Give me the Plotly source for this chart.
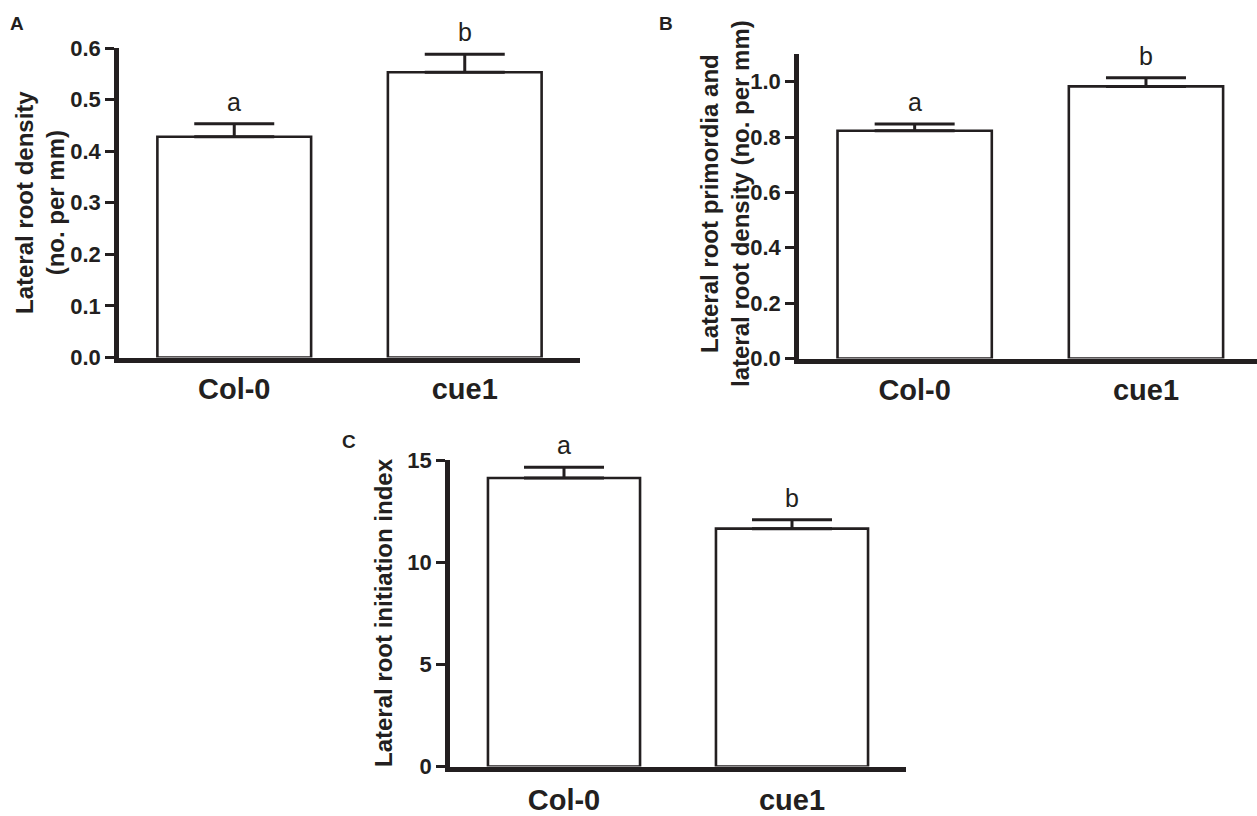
import plotly.graph_objects as go

categories = ["Col-0", "cue1"]

a_means = [0.428, 0.553]
a_errs = [0.025, 0.035]
a_letters = ["a", "b"]

b_means = [0.823, 0.983]
b_errs = [0.024, 0.031]
b_letters = ["a", "b"]

c_means = [14.12, 11.64]
c_errs = [0.52, 0.44]
c_letters = ["a", "b"]

a_ticks = [0.0, 0.1, 0.2, 0.3, 0.4, 0.5, 0.6]
b_ticks = [0.0, 0.2, 0.4, 0.6, 0.8, 1.0]
c_ticks = [0, 5, 10, 15]

W, H = 1257, 816
FONT = "Liberation Sans, Arial, sans-serif"
INK = "#231f20"


def px_x(p):
    return p / W


def px_y(p):
    return 1 - p / H


fig = go.Figure()

panels = [
    ("x", "y", a_means, a_errs, a_letters),
    ("x2", "y2", b_means, b_errs, b_letters),
    ("x3", "y3", c_means, c_errs, c_letters),
]

for xa, ya, means, errs, letters in panels:
    fig.add_trace(go.Bar(
        x=categories, y=means, xaxis=xa, yaxis=ya,
        width=0.667,
        marker=dict(color="white", line=dict(color=INK, width=2.6)),
        error_y=dict(type="data", symmetric=False, array=errs,
                     arrayminus=[0] * len(errs), color=INK,
                     thickness=3, width=40),
        showlegend=False, cliponaxis=False, hoverinfo="skip",
    ))
    for cat, m, e, let in zip(categories, means, errs, letters):
        fig.add_annotation(x=cat, y=m + e, xref=xa, yref=ya, text=let,
                           showarrow=False, xanchor="center", yanchor="bottom",
                           yshift=6,
                           font=dict(family=FONT, size=25, color=INK))

axis_common = dict(showgrid=False, zeroline=False, showline=True,
                   linecolor=INK, linewidth=4.5, ticks="outside",
                   tickwidth=3, ticklen=9, tickcolor=INK, automargin=False,
                   tickfont=dict(family=FONT, size=22, color=INK,
                                 weight="bold"))
xaxis_common = dict(showgrid=False, zeroline=False, showline=True,
                    linecolor=INK, linewidth=4.5, ticks="outside",
                    tickcolor="rgba(0,0,0,0)", automargin=False,
                    tickfont=dict(family=FONT, size=29, color=INK,
                                  weight="bold"),
                    type="category")

fig.update_layout(
    template="none",
    width=W, height=H,
    margin=dict(l=0, r=0, t=0, b=0, autoexpand=False),
    paper_bgcolor="white", plot_bgcolor="white",
    xaxis=dict(**xaxis_common, ticklen=2, domain=[px_x(119), px_x(580)],
               range=[-0.5, 1.5], anchor="y"),
    yaxis=dict(**axis_common, domain=[px_y(357.5), px_y(48)], range=[0, 0.6],
               tickvals=a_ticks, tickformat=".1f", anchor="x"),
    xaxis2=dict(**xaxis_common, ticklen=2, domain=[px_x(799), 1.0],
                range=[-0.5, 1.48], anchor="y2"),
    yaxis2=dict(**axis_common, domain=[px_y(358.5), px_y(54)], range=[0, 1.1],
                tickvals=b_ticks, tickformat=".1f", anchor="x2"),
    xaxis3=dict(**xaxis_common, ticklen=4, domain=[px_x(450), px_x(906)],
                range=[-0.5, 1.5], anchor="y3"),
    yaxis3=dict(**axis_common, domain=[px_y(766.5), px_y(460)], range=[0, 15],
                tickvals=c_ticks, tickformat="d", anchor="x3"),
)

title_font = dict(family=FONT, size=24, color=INK, weight="bold")
for txt, tx, ty in [
    ("Lateral root density<br>(no. per mm)", 40, 203),
    ("Lateral root primordia and<br>lateral root density (no. per mm)", 725, 204),
    ("Lateral root initiation index", 383, 613),
]:
    fig.add_annotation(x=px_x(tx), y=px_y(ty), xref="paper", yref="paper",
                       text=txt, textangle=-90, showarrow=False,
                       xanchor="center", yanchor="middle",
                       font=title_font, align="center")

label_font = dict(family=FONT, size=19, color=INK, weight="bold")
for lab, lx, ly in [("A", 17, 23), ("B", 666, 23), ("C", 349, 441)]:
    fig.add_annotation(x=px_x(lx), y=px_y(ly), xref="paper", yref="paper",
                       text=lab, showarrow=False, xanchor="center",
                       yanchor="middle", font=label_font)

fig.write_html(
    "out.html",
    config={"displayModeBar": False},
    post_script="document.body.style.margin='0';document.body.style.overflow='hidden';",
)
